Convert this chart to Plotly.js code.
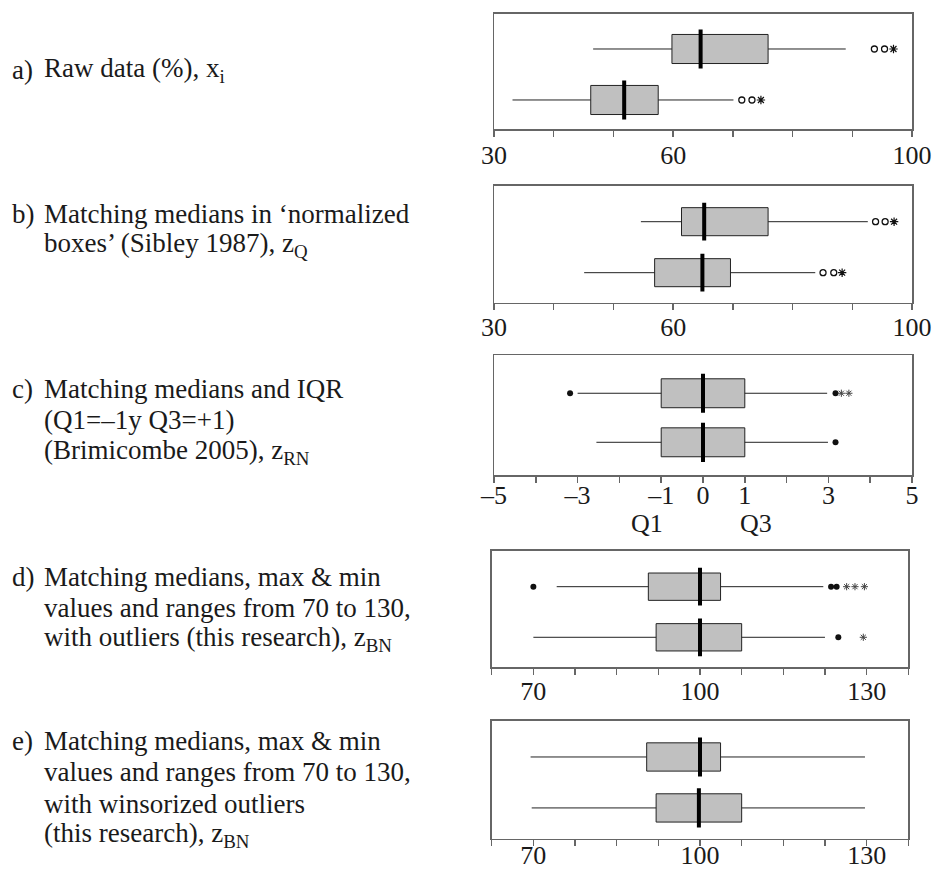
<!DOCTYPE html>
<html>
<head>
<meta charset="utf-8">
<script src="https://cdn.plot.ly/plotly-3.0.1.min.js"></script>
<style>html,body{margin:0;padding:0;background:#fff;}#chart{width:933px;height:870px;}</style>
</head>
<body>
<div id="chart"></div>
<script>
// ---- Data ----
const groups = ['Group 1', 'Group 2']; // top, bottom

// a) Raw data (%)
const aLower  = [46.6, 33.1];
const aQ1     = [59.8, 46.2];
const aMedian = [64.6, 51.8];
const aQ3     = [75.9, 57.5];
const aUpper  = [88.9, 70.1];
const aCircleX = [93.7, 95.4, 71.5, 73.2];
const aCircleG = ['Group 1', 'Group 1', 'Group 2', 'Group 2'];
const aStarX = [96.9, 74.7];
const aStarG = ['Group 1', 'Group 2'];

// b) normalized boxes
const bLower  = [54.6, 45.1];
const bQ1     = [61.4, 56.9];
const bMedian = [65.2, 64.9];
const bQ3     = [75.9, 69.6];
const bUpper  = [92.6, 83.8];
const bCircleX = [93.9, 95.5, 85.1, 86.9];
const bCircleG = ['Group 1', 'Group 1', 'Group 2', 'Group 2'];
const bStarX = [97.0, 88.3];
const bStarG = ['Group 1', 'Group 2'];

// c) medians and IQR
const cLower  = [-3.0, -2.55];
const cQ1     = [-1, -1];
const cMedian = [0, 0];
const cQ3     = [1, 1];
const cUpper  = [2.97, 2.99];
const cDotX = [-3.18, 3.17, 3.17];
const cDotG = ['Group 1', 'Group 1', 'Group 2'];
const cStarX = [3.31, 3.49];
const cStarG = ['Group 1', 'Group 1'];

// d) 70 to 130 with outliers
const dLower  = [74.2, 70.0];
const dQ1     = [90.7, 92.1];
const dMedian = [100, 100];
const dQ3     = [103.7, 107.5];
const dUpper  = [122.2, 122.5];
const dDotX = [70.0, 123.6, 124.6, 124.9];
const dDotG = ['Group 1', 'Group 1', 'Group 1', 'Group 2'];
const dStarX = [126.4, 127.9, 129.6, 129.4];
const dStarG = ['Group 1', 'Group 1', 'Group 1', 'Group 2'];

// e) winsorized
const eLower  = [69.5, 69.7];
const eQ1     = [90.4, 92.1];
const eMedian = [100, 99.8];
const eQ3     = [103.7, 107.5];
const eUpper  = [129.7, 129.7];

// Tick labels (labelled ticks) and all tick marks
const pctTickVals = [30, 60, 100];
const pctTickText = ['30', '60', '100'];
const pctTickMarks = [30, 40, 50, 60, 70, 80, 90, 100];
const zTickVals = [-5, -3, -1, 0, 1, 3, 5];
const zTickText = ['–5', '–3', '–1', '0', '1', '3', '5'];
const zTickMarks = [-5, -4, -3, -2, -1, 0, 1, 2, 3, 4, 5];
const qLabelPos = [-1, 1];
const qLabels = ['Q1', 'Q3'];
const bnTickVals = [70, 100, 130];
const bnTickText = ['70', '100', '130'];
const bnTickMarks = [62.5, 70, 77.5, 85, 92.5, 100, 107.5, 115, 122.5, 130, 137.5];

// Panel texts (one entry per line)
const panelLetters = ['a)', 'b)', 'c)', 'd)', 'e)'];
const panelLines = [
  ['Raw data (%), x<sub>i</sub>'],
  ['Matching medians in ‘normalized', 'boxes’ (Sibley 1987), z<sub>Q</sub>'],
  ['Matching medians and IQR', '(Q1=–1y Q3=+1)', '(Brimicombe 2005), z<sub>RN</sub>'],
  ['Matching medians, max &amp; min', 'values and ranges from 70 to 130,', 'with outliers (this research), z<sub>BN</sub>'],
  ['Matching medians, max &amp; min', 'values and ranges from 70 to 130,', 'with winsorized outliers', '(this research), z<sub>BN</sub>']
];

// ---- Layout geometry (pixels) ----
const W = 933, H = 870;
const FONT = '"Liberation Serif", "Times New Roman", serif';
const TXT = 27, TICK = 26, INK = '#1a1a1a';
const panels = [
  {key:'', xl:494, xr:912, yt:13.5, yb:129, yr:[-0.569, 1.696], bw:0.57, bh:28, so:-4, base:[78]},
  {key:'2', xl:494, xr:912, yt:185.7, yb:302.5, yr:[-0.585, 1.706], bw:0.55, bh:27, so:-5, base:[221.7, 253.3]},
  {key:'3', xl:494, xr:912, yt:355, yb:475.3, yr:[-0.673, 1.78], bw:0.59, bh:28, so:-10, base:[397.3, 428.3, 460]},
  {key:'4', xl:491.7, xr:908.3, yt:550.7, yb:667, yr:[-0.587, 1.711], bw:0.54, bh:27, so:-6, base:[585, 616, 647]},
  {key:'5', xl:491.7, xr:908.3, yt:720.7, yb:838.5, yr:[-0.600, 1.712], bw:0.555, bh:28, so:-13, base:[749.3, 780, 811.7, 842.7]}
];

const stats = [
  [aLower, aQ1, aMedian, aQ3, aUpper],
  [bLower, bQ1, bMedian, bQ3, bUpper],
  [cLower, cQ1, cMedian, cQ3, cUpper],
  [dLower, dQ1, dMedian, dQ3, dUpper],
  [eLower, eQ1, eMedian, eQ3, eUpper]
];
const xRanges = [[30, 100], [30, 100], [-5, 5], [62.5, 137.5], [62.5, 137.5]];
const tickSets = [
  [pctTickVals, pctTickText, pctTickMarks], [pctTickVals, pctTickText, pctTickMarks],
  [zTickVals, zTickText, zTickMarks],
  [bnTickVals, bnTickText, bnTickMarks], [bnTickVals, bnTickText, bnTickMarks]
];

const traces = [];
const layout = {
  width: W, height: H,
  margin: {l:0, r:0, t:0, b:0},
  paper_bgcolor: '#fff', plot_bgcolor: '#fff',
  showlegend: false,
  font: {family: FONT, color: INK},
  annotations: []
};

function outliers(xs, gs, ax, symbol, size, lw, col) {
  traces.push({
    type: 'scatter', mode: 'markers', x: xs, y: gs,
    xaxis: 'x' + ax, yaxis: 'y' + ax, hoverinfo: 'skip',
    marker: {symbol: symbol, size: size, color: col || '#111', line: {color: col || '#111', width: lw}}
  });
}

function textAt(x, baseline, text) {
  layout.annotations.push({
    xref: 'paper', yref: 'paper', x: x / W, y: 1 - (baseline - 8) / H,
    xanchor: 'left', yanchor: 'middle', align: 'left', showarrow: false,
    text: text, font: {family: FONT, size: TXT, color: INK}
  });
}

panels.forEach((p, i) => {
  const s = stats[i];
  traces.push({
    type: 'box', orientation: 'h', y: groups,
    lowerfence: s[0], q1: s[1], median: s[2], q3: s[3], upperfence: s[4],
    xaxis: 'x' + p.key, yaxis: 'y' + p.key,
    width: p.bw, whiskerwidth: 0, boxpoints: false,
    fillcolor: '#c0c0c0', line: {color: '#222', width: 1}, hoverinfo: 'skip'
  });
  traces.push({
    type: 'scatter', mode: 'markers', x: s[2], y: groups,
    xaxis: 'x' + p.key, yaxis: 'y' + p.key, hoverinfo: 'skip',
    marker: {symbol: 'line-ns', size: p.bh, color: '#000', line: {color: '#000', width: 4}}
  });
  const xa = 'xaxis' + p.key, ya = 'yaxis' + p.key;
  layout[xa] = {
    domain: [p.xl / W, p.xr / W], anchor: 'y' + p.key,
    range: xRanges[i], tickmode: 'array', tickvals: tickSets[i][0], ticktext: tickSets[i][1],
    ticks: 'outside', ticklen: 6, tickwidth: 1.5, tickcolor: '#666', ticklabelstandoff: p.so,
    minor: {tickmode: 'array', tickvals: tickSets[i][2], ticks: 'outside', ticklen: 6, tickwidth: 1.5, tickcolor: '#666', showgrid: false},
    showline: true, mirror: true, linecolor: '#666', linewidth: 1.5,
    showgrid: false, zeroline: false, automargin: false,
    tickfont: {family: FONT, size: TICK, color: INK}, fixedrange: true
  };
  layout[ya] = {
    domain: [1 - p.yb / H, 1 - p.yt / H], anchor: 'x' + p.key,
    type: 'category', categoryorder: 'array', categoryarray: [groups[1], groups[0]],
    range: p.yr, showticklabels: false, ticks: '',
    showline: true, mirror: true, linecolor: '#666', linewidth: 1.5,
    showgrid: false, zeroline: false, automargin: false, fixedrange: true
  };
  textAt(10, p.base[0], panelLetters[i]);
  panelLines[i].forEach((ln, k) => textAt(42, p.base[k], ln));
});

outliers(aCircleX, aCircleG, '', 'circle-open', 6, 1.3);
outliers(aStarX, aStarG, '', 'asterisk-open', 7, 1.2);
outliers(bCircleX, bCircleG, '2', 'circle-open', 6, 1.3);
outliers(bStarX, bStarG, '2', 'asterisk-open', 7, 1.2);
outliers(cDotX, cDotG, '3', 'circle', 6, 0);
outliers(cStarX, cStarG, '3', 'asterisk-open', 6, 1, '#444');
outliers(dDotX, dDotG, '4', 'circle', 6, 0);
outliers(dStarX, dStarG, '4', 'asterisk-open', 6, 1, '#444');

// Q1 / Q3 second-line labels under panel c
qLabelPos.forEach((v, k) => {
  layout.annotations.push({
    xref: 'x3', yref: 'paper', x: v, y: 1 - 523 / H,
    xanchor: 'center', yanchor: 'middle', showarrow: false,
    xshift: k === 0 ? -14 : 11,
    text: qLabels[k], font: {family: FONT, size: TICK, color: INK}
  });
});

Plotly.newPlot('chart', traces, layout, {displayModeBar: false, staticPlot: true});
</script>
</body>
</html>
